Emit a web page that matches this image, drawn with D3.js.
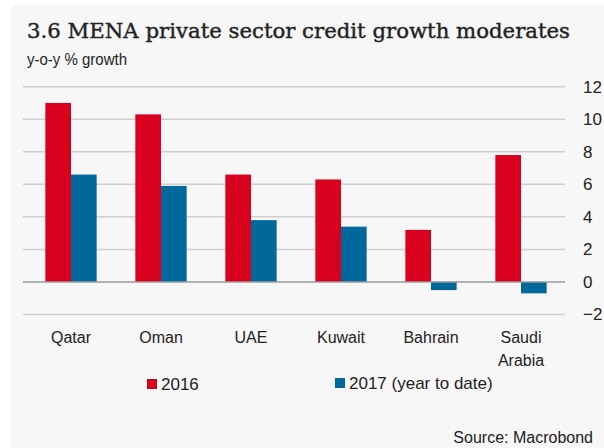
<!DOCTYPE html>
<html>
<head>
<meta charset="utf-8">
<script src="https://cdn.jsdelivr.net/npm/d3@7"></script>
<style>
	body { margin: 0; background: #fff; }
	svg { display: block; }
</style>
</head>
<body>
<div id="chart"></div>
<script>
// data
const countries = ["Qatar", "Oman", "UAE", "Kuwait", "Bahrain", "Saudi Arabia"];
const growth2016 = [11.0, 10.3, 6.6, 6.3, 3.2, 7.8];
const growth2017 = [6.6, 5.9, 3.8, 3.4, -0.5, -0.7];
const yTicks = [-2, 0, 2, 4, 6, 8, 10, 12];
const seriesNames = ["2016", "2017 (year to date)"];

const width = 604, height = 448;
const colors = { red : "#d9001e", blue : "#00689b", grid : "#cfcfcf", zero : "#9a9a9a", panel : "#f7f7f7" };
const sans = "'Liberation Sans', Arial, sans-serif";

const svg = d3.select("#chart").append("svg")
	.attr("width", width)
	.attr("height", height);

svg.append("rect")
	.attr("x", 11).attr("y", 5)
	.attr("width", width - 11).attr("height", height - 5)
	.attr("fill", colors.panel);

// title + subtitle
svg.append("text")
	.attr("x", 27).attr("y", 38)
	.attr("font-family", "'DejaVu Serif', 'Liberation Serif', serif")
	.attr("font-size", 21)
	.attr("textLength", 543)
	.attr("lengthAdjust", "spacingAndGlyphs")
	.attr("fill", "#222")
	.attr("stroke", "#222")
	.attr("stroke-width", 0.4)
	.text("3.6 MENA private sector credit growth moderates");

svg.append("text")
	.attr("x", 27).attr("y", 65)
	.attr("font-family", sans)
	.attr("font-size", 17)
	.attr("textLength", 100)
	.attr("lengthAdjust", "spacingAndGlyphs")
	.attr("fill", "#222")
	.text("y-o-y % growth");

// scales
const x = d3.scaleBand()
	.domain(countries)
	.range([26, 566])
	.paddingInner(0.43)
	.paddingOuter(0.215);

const xSub = d3.scaleBand()
	.domain([0, 1])
	.range([0, x.bandwidth()]);

const y = d3.scaleLinear()
	.domain([-2, 12])
	.range([314.5, 86.7]);

// gridlines
svg.append("g").selectAll("line")
	.data(yTicks.filter(d => d !== 0))
	.join("line")
	.attr("x1", 23).attr("x2", 565)
	.attr("y1", d => y(d)).attr("y2", d => y(d))
	.attr("stroke", colors.grid)
	.attr("stroke-width", 1.5);

// right axis labels
const yAxis = d3.axisRight(y).tickValues(yTicks).tickSize(0).tickPadding(0).tickFormat(d3.format("d"));
const yg = svg.append("g")
	.attr("transform", "translate(583,0)")
	.call(yAxis);
yg.select(".domain").remove();
yg.selectAll("text")
	.attr("font-family", sans)
	.attr("font-size", 17)
	.attr("fill", "#222");

// bars
const rows = countries.map((c, i) => ({ country : c, vals : [growth2016[i], growth2017[i]] }));
const barColors = [colors.red, colors.blue];

const groups = svg.append("g").selectAll("g")
	.data(rows)
	.join("g")
	.attr("transform", d => `translate(${x(d.country)},0)`);

groups.selectAll("rect")
	.data(d => d.vals.map((v, k) => ({ v, k })))
	.join("rect")
	.attr("x", d => xSub(d.k))
	.attr("width", xSub.bandwidth())
	.attr("y", d => y(Math.max(0, d.v)))
	.attr("height", d => Math.abs(y(d.v) - y(0)))
	.attr("fill", d => barColors[d.k]);

// zero line on top
svg.append("line")
	.attr("x1", 23).attr("x2", 565)
	.attr("y1", y(0)).attr("y2", y(0))
	.attr("stroke", colors.zero)
	.attr("stroke-width", 1.5);

// x labels (wrap "Saudi Arabia")
const xl = svg.append("g").selectAll("text")
	.data(countries)
	.join("text")
	.attr("x", d => x(d) + x.bandwidth() / 2)
	.attr("y", 343)
	.attr("text-anchor", "middle")
	.attr("font-family", sans)
	.attr("font-size", 16)
	.attr("fill", "#222");

xl.each(function(d){
	const words = d.split(" ");
	d3.select(this).selectAll("tspan")
		.data(words)
		.join("tspan")
		.attr("x", x(d) + x.bandwidth() / 2)
		.attr("dy", (w, i) => i === 0 ? 0 : 23)
		.text(w => w);
});

// legend
const legendX = [147, 335];
const lg = svg.append("g").selectAll("g")
	.data(seriesNames)
	.join("g")
	.attr("transform", (d, i) => `translate(${legendX[i]},${379 - i})`);

lg.append("rect")
	.attr("width", 10).attr("height", 10)
	.attr("fill", (d, i) => barColors[i]);

lg.append("text")
	.attr("x", 14).attr("y", 11)
	.attr("font-family", sans)
	.attr("font-size", 17)
	.attr("fill", "#222")
	.text(d => d);

// source
svg.append("text")
	.attr("x", 593).attr("y", 443)
	.attr("text-anchor", "end")
	.attr("font-family", sans)
	.attr("font-size", 16)
	.attr("fill", "#222")
	.text("Source: Macrobond");
</script>
</body>
</html>
